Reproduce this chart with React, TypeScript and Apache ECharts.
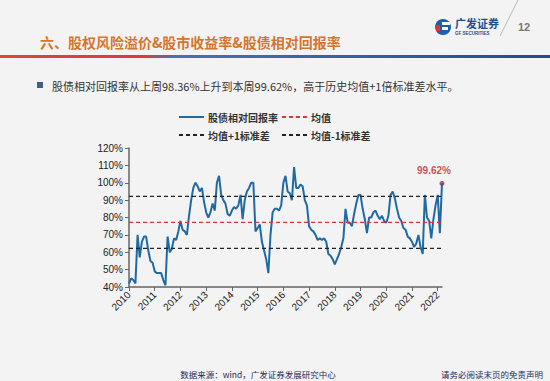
import React, { useEffect, useRef } from "react";
import * as echarts from "echarts";

// ---- data (monthly) ----
const years = [2010, 2011, 2012, 2013, 2014, 2015, 2016, 2017, 2018, 2019, 2020, 2021, 2022];
const v2010 = [42, 45, 44, 42, 70, 57, 66, 69, 69, 61, 55, 54];
const v2011 = [49, 48, 48, 48, 44, 41, 69, 60, 62, 68, 67, 72];
const v2012 = [78, 73, 72, 70, 81, 90, 97, 100, 98, 95, 97, 89];
const v2013 = [83, 80, 83, 88, 84, 100, 104, 93, 90, 88, 82, 81];
const v2014 = [84, 86, 85, 87, 93, 79, 90, 95, 97, 100, 100, 72];
const v2015 = [74, 76, 66, 61, 56, 48, 70, 83, 85, 85, 84, 87];
const v2016 = [100, 104, 95, 94, 90, 109, 97, 97, 99, 98, 90, 87];
const v2017 = [75, 73, 72, 70, 67, 68, 67, 68, 66, 59, 58, 56];
const v2018 = [53, 56, 59, 63, 68, 85, 77, 77, 75, 82, 88, 93];
const v2019 = [93, 85, 79, 71, 80, 80, 83, 84, 81, 79, 81, 78];
const v2020 = [77, 81, 93, 95, 91, 85, 80, 78, 74, 73, 69, 68];
const v2021 = [66, 63, 65, 70, 63, 59, 93, 80, 78, 68, 79, 87];
const v2022 = [93, 71, 99.62];

const meanValue = 77.2;
const upperValue = 92.2;
const lowerValue = 62.2;

const yTicks = { min: 40, max: 120, interval: 10 };

const seriesNames = ["股债相对回报率", "均值", "均值+1标准差", "均值-1标准差"];

const allYears = [v2010, v2011, v2012, v2013, v2014, v2015, v2016, v2017, v2018, v2019, v2020, v2021, v2022];
const values: number[] = allYears.flat();
const categories: string[] = [];
allYears.forEach((arr, yi) => {
  arr.forEach((_, m) => {
    categories.push(`${years[yi]}-${String(m + 1).padStart(2, "0")}`);
  });
});
const lastCat = categories[categories.length - 1];
const lastVal = values[values.length - 1];

const CJK = '"Noto Sans CJK SC", sans-serif';
const LAT = '"Liberation Sans", Arial, sans-serif';

export default function App() {
  const ref = useRef<HTMLDivElement>(null);
  useEffect(() => {
    if (!ref.current) return;
    const chart = echarts.init(ref.current, undefined, { renderer: "svg" });
    const legendCommon = {
      itemWidth: 25,
      itemHeight: 10,
      itemGap: 4,
      selectedMode: false,
      textStyle: { fontSize: 10, fontWeight: "bold", color: "#333", fontFamily: CJK, padding: [0, 0, 0, -1] },
    };
    const yearTick = (i: number) => i % 12 === 0;
    const hiddenSymbol = (color: string) => ({ color, opacity: 0 });
    chart.setOption({
      animation: false,
      backgroundColor: "#f3f3f3",
      legend: [
        { ...legendCommon, data: [seriesNames[0]], left: 173, top: 107 },
        { ...legendCommon, data: [seriesNames[1]], left: 276, top: 107 },
        { ...legendCommon, data: [seriesNames[2]], left: 173, top: 125 },
        { ...legendCommon, data: [seriesNames[3]], left: 276, top: 125 },
      ],
      grid: { left: 129, right: 108, top: 148, bottom: 94, containLabel: false },
      xAxis: {
        type: "category",
        data: categories,
        boundaryGap: false,
        axisLine: { lineStyle: { color: "#666", width: 1.5 } },
        axisTick: { interval: yearTick, length: 4, lineStyle: { color: "#666" } },
        axisLabel: {
          interval: yearTick,
          rotate: 45,
          fontSize: 10,
          color: "#222",
          fontFamily: LAT,
          margin: 6,
          formatter: (v: string) => v.slice(0, 4),
        },
        splitLine: { show: false },
      },
      yAxis: {
        type: "value",
        min: yTicks.min,
        max: yTicks.max,
        interval: yTicks.interval,
        axisLine: { show: true, lineStyle: { color: "#666", width: 1.5 } },
        axisTick: { show: true, length: 4, lineStyle: { color: "#666" } },
        axisLabel: { formatter: "{value}%", fontSize: 10, color: "#222", fontFamily: LAT, margin: 6 },
        splitLine: { show: false },
      },
      series: [
        {
          name: seriesNames[0],
          type: "line",
          data: values,
          symbol: "none",
          lineStyle: { color: "#1f6aa5", width: 2 },
          itemStyle: hiddenSymbol("#1f6aa5"),
          z: 3,
        },
        {
          name: seriesNames[1],
          type: "line",
          data: categories.map(() => meanValue),
          symbol: "none",
          lineStyle: { color: "#d9343a", width: 1.2, type: [4, 3] },
          itemStyle: hiddenSymbol("#d9343a"),
          z: 4,
        },
        {
          name: seriesNames[2],
          type: "line",
          data: categories.map(() => upperValue),
          symbol: "none",
          lineStyle: { color: "#222", width: 1.2, type: [4, 3] },
          itemStyle: hiddenSymbol("#222"),
          z: 4,
        },
        {
          name: seriesNames[3],
          type: "line",
          data: categories.map(() => lowerValue),
          symbol: "none",
          lineStyle: { color: "#222", width: 1.2, type: [4, 3] },
          itemStyle: hiddenSymbol("#222"),
          z: 4,
        },
        {
          name: "last",
          type: "scatter",
          data: [[lastCat, lastVal]],
          symbol: "circle",
          symbolSize: 5,
          itemStyle: { color: "#8a3a5e" },
          label: {
            show: true,
            position: "top",
            distance: 5,
            offset: [-8, 0],
            formatter: () => `${lastVal.toFixed(2)}%`,
            color: "#c8232c",
            fontWeight: "bold",
            fontSize: 10,
            fontFamily: LAT,
          },
          z: 5,
        },
      ],
      graphic: [
        {
          type: "text",
          x: 40,
          y: 42,
          style: {
            text: "六、股权风险溢价&股市收益率&股债相对回报率",
            font: `bold 14px ${CJK}`,
            fill: "#d6742c",
            verticalAlign: "middle",
            textVerticalAlign: "middle",
          },
        },
        {
          type: "rect",
          shape: { x: 0, y: 55, width: 550, height: 3 },
          style: {
            fill: new echarts.graphic.LinearGradient(0, 0, 1, 0, [
              { offset: 0, color: "#d94a30" },
              { offset: 0.26, color: "#e23a3a" },
              { offset: 0.32, color: "#3f74b8" },
              { offset: 1, color: "#1d4f8f" },
            ]),
          },
        },
        // logo
        { type: "circle", shape: { cx: 443, cy: 27, r: 8 }, style: { fill: "#1d5fa8" } },
        { type: "rect", shape: { x: 442, y: 22, width: 8, height: 3 }, style: { fill: "#ffffff" } },
        { type: "rect", shape: { x: 442, y: 27, width: 6, height: 3 }, style: { fill: "#ffffff" } },
        { type: "rect", shape: { x: 436, y: 25, width: 4, height: 6 }, style: { fill: "#e0343a" } },
        {
          type: "text",
          x: 455,
          y: 23,
          style: { text: "广发证券", font: `bold 11px ${CJK}`, fill: "#1d4f91", verticalAlign: "middle", textVerticalAlign: "middle" },
        },
        {
          type: "text",
          x: 455,
          y: 33,
          style: { text: "GF SECURITIES", font: `bold 4.5px ${LAT}`, fill: "#1d4f91", verticalAlign: "middle", textVerticalAlign: "middle" },
        },
        { type: "line", shape: { x1: 500, y1: 36, x2: 518, y2: 0 }, style: { stroke: "#aaa", lineWidth: 0.8 } },
        {
          type: "text",
          x: 518,
          y: 27,
          style: { text: "12", font: `bold 11px ${LAT}`, fill: "#777", verticalAlign: "middle", textVerticalAlign: "middle" },
        },
        // bullet
        { type: "rect", shape: { x: 37, y: 82, width: 6, height: 6 }, style: { fill: "#3f5f8a" } },
        {
          type: "text",
          x: 52,
          y: 86,
          style: {
            text: "股债相对回报率从上周98.36%上升到本周99.62%，高于历史均值+1倍标准差水平。",
            font: `11px ${CJK}`,
            fill: "#333",
            verticalAlign: "middle",
            textVerticalAlign: "middle",
          },
        },
        // footer
        {
          type: "text",
          x: 258,
          y: 374,
          style: {
            text: "数据来源：wind，广发证券发展研究中心",
            font: `8.5px ${CJK}`,
            fill: "#1f2a5a",
            align: "center",
            textAlign: "center",
            verticalAlign: "middle",
            textVerticalAlign: "middle",
          },
        },
        {
          type: "text",
          x: 543,
          y: 374,
          style: {
            text: "请务必阅读末页的免责声明",
            font: `8.5px ${CJK}`,
            fill: "#1f2a5a",
            align: "right",
            textAlign: "right",
            verticalAlign: "middle",
            textVerticalAlign: "middle",
          },
        },
      ],
    });
    return () => chart.dispose();
  }, []);
  return (
    <div
      ref={ref}
      style={{ position: "fixed", left: 0, top: 0, width: 550, height: 381 }}
    />
  );
}
